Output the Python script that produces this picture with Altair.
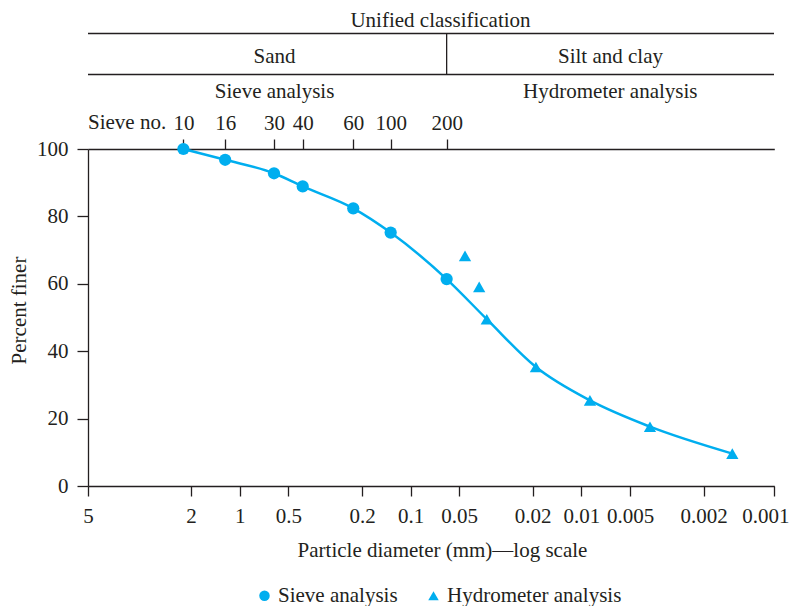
import altair as alt
import pandas as pd

# ---------------- data ----------------
# bottom axis tick labels: particle diameter (mm)
diam_ticks = [5, 2, 1, 0.5, 0.2, 0.1, 0.05, 0.02, 0.01, 0.005, 0.002, 0.001]

# sieve analysis (sieve number, opening in mm, percent finer)
sieve_no = ["10", "16", "30", "40", "60", "100", "200"]
sieve_mm = [2.14, 1.23, 0.613, 0.418, 0.223, 0.133, 0.0597]
sieve_pct = [100.0, 96.8, 92.8, 88.9, 82.4, 75.2, 61.4]

# hydrometer analysis
hydro_mm = [0.0464, 0.0389, 0.0354, 0.0191, 0.00884, 0.0039, 0.00151]
hydro_pct = [68.3, 59.1, 49.5, 35.3, 25.4, 17.6, 9.6]

series_names = ["Sieve analysis", "Hydrometer analysis"]
header_text = ["Unified classification", "Sand", "Silt and clay",
               "Sieve analysis", "Hydrometer analysis", "Sieve no."]
y_ticks = [0, 20, 40, 60, 80, 100]

# ---------------- style ----------------
C = "#00AEEF"
INK = "#231F20"
FONT = "Liberation Serif"
FS = 21
W, H = 686, 337

points_df = pd.DataFrame({
    "d": sieve_mm + hydro_mm,
    "p": sieve_pct + hydro_pct,
    "type": [series_names[0]] * len(sieve_mm) + [series_names[1]] * len(hydro_mm),
})
# smooth grading curve through the sieve points and the lower hydrometer readings
curve_df = pd.DataFrame({"d": sieve_mm + hydro_mm[2:], "p": sieve_pct + hydro_pct[2:]})

# the printed diameter axis is a hand-drawn log axis; follow its tick spacing
x_scale = alt.Scale(type="log", domain=diam_ticks,
                    range=[0, 103, 151.7, 200.3, 274, 322.7, 371, 444.7, 493.3, 542, 615.7, 686.3],
                    nice=False)

y_enc = alt.Y("p:Q", scale=alt.Scale(domain=[0, 100], nice=False),
              axis=alt.Axis(values=y_ticks, title="Percent finer", tickSize=11, labelPadding=9,
                            titleX=-63, titleY=161, titleAngle=270, titleAlign="center",
                            titleBaseline="alphabetic"))

line = alt.Chart(curve_df).mark_line(color=C, strokeWidth=2.5, interpolate="monotone").encode(
    x=alt.X("d:Q", scale=x_scale,
            axis=alt.Axis(orient="bottom", values=diam_ticks, format="~g",
                          title="Particle diameter (mm)\u2014log scale",
                          tickSize=10, labelBaseline="alphabetic", labelPadding=26.5,
                          labelFlush=False, labelOverlap=False, labelBound=False,
                          labelOffset={"condition": {"test": "datum.value < 0.0015", "value": -9},
                                       "value": 0},
                          titleX=354, titleY=70, titleAlign="center", titleBaseline="alphabetic")),
    y=y_enc,
)

label_expr = ("[" + ",".join("'%s'" % s for s in sieve_no) + "][indexof(["
              + ",".join(repr(v) for v in sieve_mm) + "], datum.value)]")

pts = alt.Chart(points_df).mark_point(filled=True, opacity=1, size=150).encode(
    x=alt.X("d:Q", scale=x_scale,
            axis=alt.Axis(orient="top", values=sieve_mm, labelExpr=label_expr, title=None,
                          tickSize=10, labelBaseline="alphabetic", labelPadding=10,
                          labelFlush=False, labelOverlap=False, labelBound=False)),
    y=y_enc,
    shape=alt.Shape("type:N",
                    scale=alt.Scale(domain=series_names, range=["circle", "triangle-up"]),
                    legend=alt.Legend(orient="none", legendX=166, legendY=436,
                                      direction="horizontal", title=None, symbolSize=110,
                                      symbolFillColor=C, symbolStrokeColor=C,
                                      labelOffset=3, columnPadding=25, padding=0,
                                      labelLimit=0)),
    color=alt.value(C),
)


def header(txt, x, y, align="center"):
    return alt.Chart(pd.DataFrame({"t": [txt]})).mark_text(
        font=FONT, fontSize=FS, color=INK, align=align, baseline="alphabetic"
    ).encode(text="t:N", x=alt.value(x), y=alt.value(y))


one = pd.DataFrame({"k": [0]})
hline1 = alt.Chart(one).mark_rule(color=INK, strokeWidth=1.3).encode(
    x=alt.value(0), x2=alt.value(W), y=alt.value(-115.5))
hline2 = alt.Chart(one).mark_rule(color=INK, strokeWidth=1.3).encode(
    x=alt.value(0), x2=alt.value(W), y=alt.value(-74.5))
vline = alt.Chart(one).mark_rule(color=INK, strokeWidth=1.3).encode(
    x=alt.X(datum=sieve_mm[-1], type="quantitative", axis=None),
    y=alt.value(-115.5), y2=alt.value(-74.5))

layers = [
    hline1, hline2, vline,
    header(header_text[0], 352.5, -122.5),
    header(header_text[1], 186.6, -86),
    header(header_text[2], 522.5, -86),
    header(header_text[3], 186.6, -51),
    header(header_text[4], 522.3, -51),
    header(header_text[5], 0, -20, align="left"),
    line, pts,
]

chart = alt.layer(*layers).resolve_axis(x="independent").properties(
    width=W, height=H, autosize="none",
    padding={"left": 80, "top": 141, "right": 15, "bottom": 120},
).configure_axis(
    labelFont=FONT, labelFontSize=FS, titleFont=FONT, titleFontSize=FS,
    labelColor=INK, titleColor=INK, domainColor=INK, tickColor=INK,
    domainWidth=1.3, tickWidth=1.3, grid=False, titleFontWeight="normal",
).configure_legend(
    labelFont=FONT, labelFontSize=FS, labelColor=INK,
).configure_view(stroke=None)

chart.save("out.html", embed_options={"renderer": "svg", "actions": False})
